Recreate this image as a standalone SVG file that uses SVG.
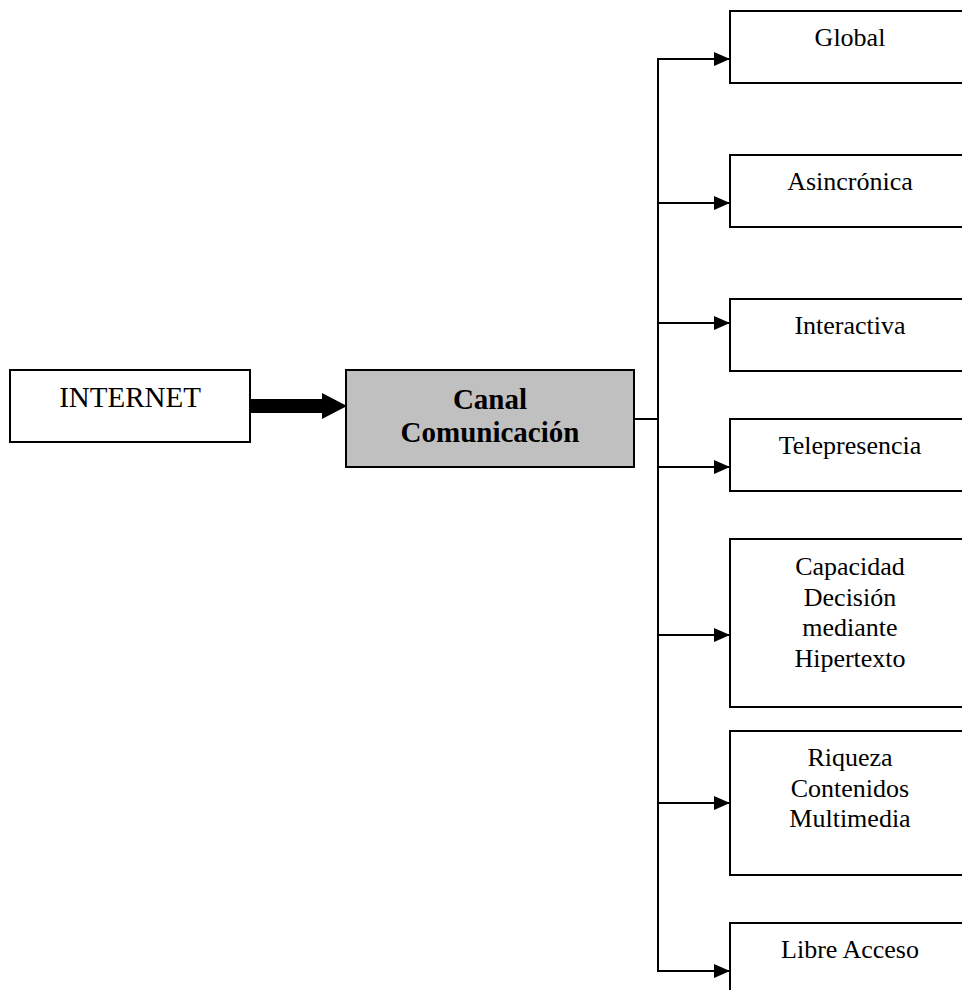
<svg xmlns="http://www.w3.org/2000/svg" width="962" height="990" viewBox="0 0 962 990">
  <defs>
    <style>
      .box { fill: #ffffff; stroke: #000000; stroke-width: 2; }
      .hub { fill: #c0c0c0; stroke: #000000; stroke-width: 2; }
      .lbl { font-family: "Liberation Serif", "Times New Roman", serif; font-size: 26px; fill: #000000; text-anchor: middle; }
      .big { font-size: 29px; }
      .bold { font-weight: bold; }
      .wire { fill: none; stroke: #000000; stroke-width: 2; }
    </style>
    <marker id="head" markerWidth="16" markerHeight="14" refX="16" refY="7" orient="auto" markerUnits="userSpaceOnUse">
      <path d="M0,0 L16,7 L0,14 Z" fill="#000000"/>
    </marker>
  </defs>

  <!-- connectors -->
  <g id="connectors">
    <!-- thick block arrow from INTERNET to the channel -->
    <path d="M250,399 L322,399 L322,393 L347,406 L322,419 L322,413 L250,413 Z" fill="#000000"/>
    <!-- channel to trunk -->
    <line class="wire" x1="634" y1="419" x2="658" y2="419"/>
    <!-- vertical trunk -->
    <line class="wire" x1="658" y1="58" x2="658" y2="972"/>
    <!-- branches -->
    <line class="wire" x1="657" y1="59" x2="730" y2="59" marker-end="url(#head)"/>
    <line class="wire" x1="657" y1="203" x2="730" y2="203" marker-end="url(#head)"/>
    <line class="wire" x1="657" y1="323" x2="730" y2="323" marker-end="url(#head)"/>
    <line class="wire" x1="657" y1="467" x2="730" y2="467" marker-end="url(#head)"/>
    <line class="wire" x1="657" y1="635" x2="730" y2="635" marker-end="url(#head)"/>
    <line class="wire" x1="657" y1="803" x2="730" y2="803" marker-end="url(#head)"/>
    <line class="wire" x1="657" y1="971" x2="730" y2="971" marker-end="url(#head)"/>
  </g>

  <g id="internet">
    <rect class="box" x="10" y="370" width="240" height="72"/>
    <text class="lbl big" x="130" y="407">INTERNET</text>
  </g>

  <g id="canal">
    <rect class="hub" x="346" y="370" width="288" height="97"/>
    <text class="lbl big bold" x="490" y="409">Canal</text>
    <text class="lbl big bold" x="490" y="442">Comunicación</text>
  </g>

  <g id="global">
    <rect class="box" x="730" y="11" width="240" height="72"/>
    <text class="lbl" x="850" y="46">Global</text>
  </g>

  <g id="asincronica">
    <rect class="box" x="730" y="155" width="240" height="72"/>
    <text class="lbl" x="850" y="190">Asincrónica</text>
  </g>

  <g id="interactiva">
    <rect class="box" x="730" y="299" width="240" height="72"/>
    <text class="lbl" x="850" y="334">Interactiva</text>
  </g>

  <g id="telepresencia">
    <rect class="box" x="730" y="419" width="240" height="72"/>
    <text class="lbl" x="850" y="454">Telepresencia</text>
  </g>

  <g id="capacidad">
    <rect class="box" x="730" y="539" width="240" height="168"/>
    <text class="lbl" x="850" y="575">Capacidad</text>
    <text class="lbl" x="850" y="605.5">Decisión</text>
    <text class="lbl" x="850" y="636">mediante</text>
    <text class="lbl" x="850" y="666.5">Hipertexto</text>
  </g>

  <g id="riqueza">
    <rect class="box" x="730" y="731" width="240" height="144"/>
    <text class="lbl" x="850" y="766">Riqueza</text>
    <text class="lbl" x="850" y="796.5">Contenidos</text>
    <text class="lbl" x="850" y="827">Multimedia</text>
  </g>

  <g id="libre">
    <rect class="box" x="730" y="923" width="240" height="100"/>
    <text class="lbl" x="850" y="958">Libre Acceso</text>
  </g>
</svg>
